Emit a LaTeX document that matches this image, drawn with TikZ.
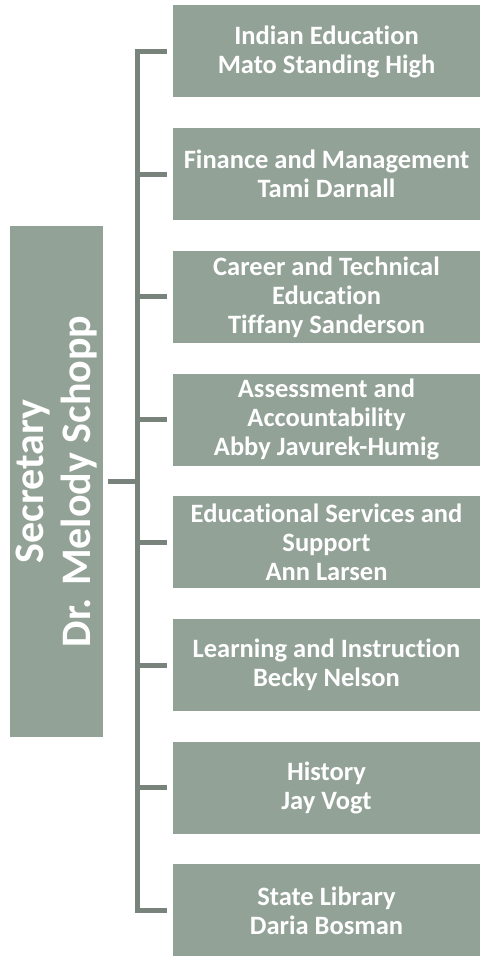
\documentclass[tikz,border=0pt]{standalone}
\usepackage{fontspec}
\setmainfont{Carlito}[Ligatures=NoCommon]
\usepackage{tikz}
\definecolor{boxgreen}{RGB}{147,162,151}
\definecolor{linegreen}{RGB}{119,131,123}

\begin{document}
\begin{tikzpicture}[x=1pt,y=1pt,
  unit/.style={fill=boxgreen, text=white, align=center, inner sep=0pt,
    minimum width=307pt, minimum height=92pt,
    font=\bfseries\fontsize{26.5}{29}\selectfont},
  head/.style={fill=boxgreen, text=white, align=center, inner sep=0pt,
    rotate=90, minimum width=511pt, minimum height=93pt,
    font=\bfseries\fontsize{42}{47}\selectfont},
  conn/.style={draw=linegreen, line width=5pt}]
\useasboundingbox (0,0) rectangle (485,-957);
\node[head] (sec) at (56.5,-481.5) {Secretary\\Dr. Melody Schopp};
\node[unit] (b1) at (326.5,-51.5) {Indian Education\\Mato Standing High};
\node[unit] (b2) at (326.5,-174.2) {Finance and Management\\Tami Darnall};
\node[unit] (b3) at (326.5,-296.9) {Career and Technical\\Education\\Tiffany Sanderson};
\node[unit] (b4) at (326.5,-419.6) {Assessment and\\Accountability\\Abby Javurek-Humig};
\node[unit] (b5) at (326.5,-542.3) {Educational Services and\\Support\\Ann Larsen};
\node[unit] (b6) at (326.5,-665) {Learning and Instruction\\Becky Nelson};
\node[unit] (b7) at (326.5,-787.7) {History\\Jay Vogt};
\node[unit] (b8) at (326.5,-910.4) {State Library\\Daria Bosman};
\draw[conn] ([xshift=-6pt]b1.west) -- ([xshift=-35.5pt]b1.west) -- ([xshift=-35.5pt]b8.west) -- ([xshift=-6pt]b8.west);
\draw[conn] ([xshift=-6pt]b2.west) -- ([xshift=-35.5pt]b2.west);
\draw[conn] ([xshift=-6pt]b3.west) -- ([xshift=-35.5pt]b3.west);
\draw[conn] ([xshift=-6pt]b4.west) -- ([xshift=-35.5pt]b4.west);
\draw[conn] ([xshift=-6pt]b5.west) -- ([xshift=-35.5pt]b5.west);
\draw[conn] ([xshift=-6pt]b6.west) -- ([xshift=-35.5pt]b6.west);
\draw[conn] ([xshift=-6pt]b7.west) -- ([xshift=-35.5pt]b7.west);
\draw[conn] ([xshift=5pt]sec.south) -- ([xshift=-35.5pt]b1.west |- sec.south);
\end{tikzpicture}
\end{document}
